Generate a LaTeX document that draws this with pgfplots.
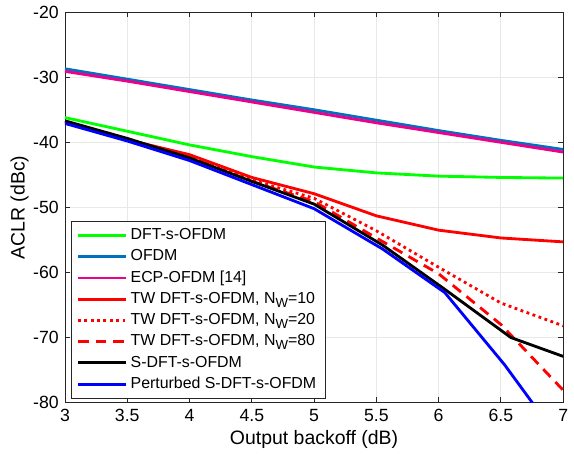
\documentclass[border=0pt]{standalone}
\usepackage{pgfplots}
\pgfplotsset{compat=1.18}
\usepackage{fontspec}
\setmainfont{Liberation Sans}
\definecolor{matblue}{RGB}{0,114,189}
\definecolor{axgray}{RGB}{38,38,38}
\newcommand{\nw}{N\raisebox{-0.45ex}{\fontsize{7.5}{8}\selectfont W}}
\begin{document}
\begin{tikzpicture}
  \begin{axis}[
    scale only axis,
    width=282pt, height=221pt,
    xmin=3, xmax=7, ymin=-80, ymax=-20,
    xtick={3,3.5,...,7}, ytick={-80,-70,...,-20},
    /pgf/number format/assume math mode=true,
    xticklabel style={font=\fontsize{10}{12}\selectfont},
    yticklabel style={font=\fontsize{10}{12}\selectfont},
    xlabel={Output backoff (dB)}, ylabel={ACLR (dBc)},
    label style={font=\fontsize{11}{13}\selectfont},
    xlabel style={yshift=2pt},
    ylabel style={yshift=-7pt, inner ysep=6pt},
    grid=major,
    major grid style={line width=0.5pt, gray!18},
    axis line style={axgray, line width=0.5pt},
    tick style={axgray, line width=0.5pt},
    tick align=inside, major tick length=3pt,
    legend cell align=left,
    legend style={at={(0.012,0.01)}, anchor=south west, draw=axgray,
      fill=white, font=\fontsize{9}{10.5}\selectfont,
      row sep=0.2pt, inner xsep=3pt, inner ysep=2pt,
      /tikz/every node/.append style={inner xsep=2pt}},
    legend image code/.code={\draw[#1] (0pt,0pt) -- (27pt,0pt);},
    every axis plot/.append style={line width=1.6pt},
  ]
    \addplot[color=green] coordinates {
      (3,-36.2) (3.5,-38.3) (4,-40.4) (4.5,-42.2) (5,-43.8)
      (5.5,-44.7) (6,-45.2) (6.5,-45.4) (7,-45.5)
    };
    \addlegendentry{DFT-s-OFDM}
    \addplot[color=matblue] coordinates {
      (3,-28.7) (3.5,-30.3) (4,-31.9) (4.5,-33.5) (5,-35.0)
      (5.5,-36.6) (6,-38.2) (6.5,-39.7) (7,-41.1)
    };
    \addlegendentry{OFDM}
    \addplot[color=magenta] coordinates {
      (3,-29.1) (3.5,-30.6) (4,-32.2) (4.5,-33.8) (5,-35.4)
      (5.5,-37.0) (6,-38.5) (6.5,-40.0) (7,-41.5)
    };
    \addlegendentry{ECP-OFDM [14]}
    \addplot[color=red] coordinates {
      (3,-36.9) (3.5,-39.6) (4,-41.9) (4.5,-45.4) (5,-47.9)
      (5.5,-51.3) (6,-53.5) (6.5,-54.7) (7,-55.3)
    };
    \addlegendentry{TW DFT-s-OFDM, \nw=10}
    \addplot[color=red, dotted] coordinates {
      (3,-36.8) (3.5,-39.6) (4,-42.1) (4.5,-45.8) (5,-48.6)
      (5.5,-53.6) (6,-59.2) (6.5,-64.7) (7,-68.2)
    };
    \addlegendentry{TW DFT-s-OFDM, \nw=20}
    \addplot[color=red, dash pattern=on 6pt off 4pt] coordinates {
      (3,-36.8) (3.5,-39.6) (4,-42.3) (4.5,-46.0) (5,-49.1)
      (5.5,-54.7) (6,-60.2) (6.5,-68.0) (7,-78.1)
    };
    \addlegendentry{TW DFT-s-OFDM, \nw=80}
    \addplot[color=black] coordinates {
      (3,-36.7) (3.5,-39.4) (4,-42.4) (4.5,-46.0) (5,-49.5)
      (5.55,-55.8) (6.05,-62.6) (6.58,-70.0) (7,-72.9)
    };
    \addlegendentry{S-DFT-s-OFDM}
    \addplot[color=blue] coordinates {
      (3,-37.1) (3.5,-39.8) (4,-42.8) (4.5,-46.5) (5,-50.2)
      (5.55,-56.4) (6.05,-63.1) (6.53,-74.2) (7,-86.5)
    };
    \addlegendentry{Perturbed S-DFT-s-OFDM}
  \end{axis}
\end{tikzpicture}
\end{document}
